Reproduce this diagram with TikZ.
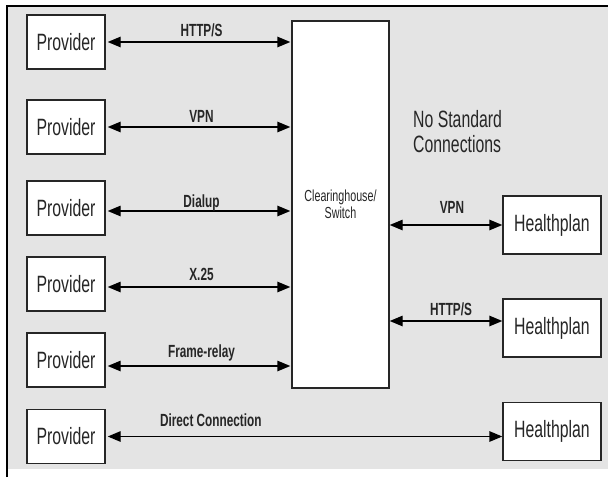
\documentclass[tikz,border=0pt]{standalone}
\usepackage{fontspec}
\setmainfont{Liberation Sans}[FakeStretch=0.67]
\usetikzlibrary{arrows.meta}
\definecolor{panel}{RGB}{228,228,228}
\definecolor{ink}{RGB}{38,38,38}

\begin{document}
\begin{tikzpicture}[x=1pt,y=-1pt,
    box/.style={draw=ink,line width=1.4pt,fill=white,text=ink,inner sep=0pt,
      font=\fontsize{23.6}{25}\selectfont},
    link/.style={line width=1.4pt,{Triangle[length=13pt,width=10.5pt]}-{Triangle[length=13pt,width=10.5pt]}},
    lab/.style={anchor=base,inner sep=0pt,text=ink,font=\bfseries\fontsize{17.6}{19}\selectfont}]
  \useasboundingbox (0,0) rectangle (608,477);
  % panel and frame
  \fill[panel] (7,6) rectangle (608,469);
  \draw[line width=2pt] (7,477) -- (7,6) -- (608,6);
  % boxes
  \foreach \i/\y in {1/42,2/127,3/208,4/284,5/360,6/436.5}
    \node[box,minimum width=78pt,minimum height=54pt] (p\i) at (66,\y) {Provider};
  \node[box,minimum width=97pt,minimum height=367pt,align=center,
    font=\fontsize{16}{16.5}\selectfont] (ch) at (340.5,204.5) {Clearinghouse/\\Switch};
  \foreach \i/\y in {1/225,2/328,3/431.5}
    \node[box,minimum width=98pt,minimum height=58pt] (hp\i) at (552,\y) {Healthplan};
  \node[anchor=base west,inner sep=0pt,align=left,text=ink,
    font=\fontsize{23.6}{25.5}\selectfont] (nsc) at (413,152.5) {No Standard\\Connections};
  % connections
  \foreach \i/\lab/\s/\h in {1/{HTTP/S}/0pt/6pt,2/VPN/0pt/5pt,3/Dialup/-3pt/4pt,
      4/X.25/-3pt/7pt,5/Frame-relay/-6pt/9pt}
    \draw[link,shorten <=2pt,shorten >=1pt] ([yshift=\s]p\i.east) -- ([yshift=\s]p\i.east -| ch.west)
      node[lab,midway,xshift=3pt,yshift=\h] {\lab};
  \draw[link,shorten <=2pt] (p6.east) -- (p6.east -| hp3.west)
    node[lab,pos=.265,yshift=10pt] {Direct Connection};
  \draw[link] (ch.east |- hp1.west) -- (hp1.west)
    node[lab,midway,xshift=6pt,yshift=12pt] {VPN};
  \draw[link] ([yshift=7pt]hp2.west -| ch.east) -- ([yshift=7pt]hp2.west)
    node[lab,midway,xshift=5pt,yshift=6pt] {HTTP/S};
\end{tikzpicture}
\end{document}
